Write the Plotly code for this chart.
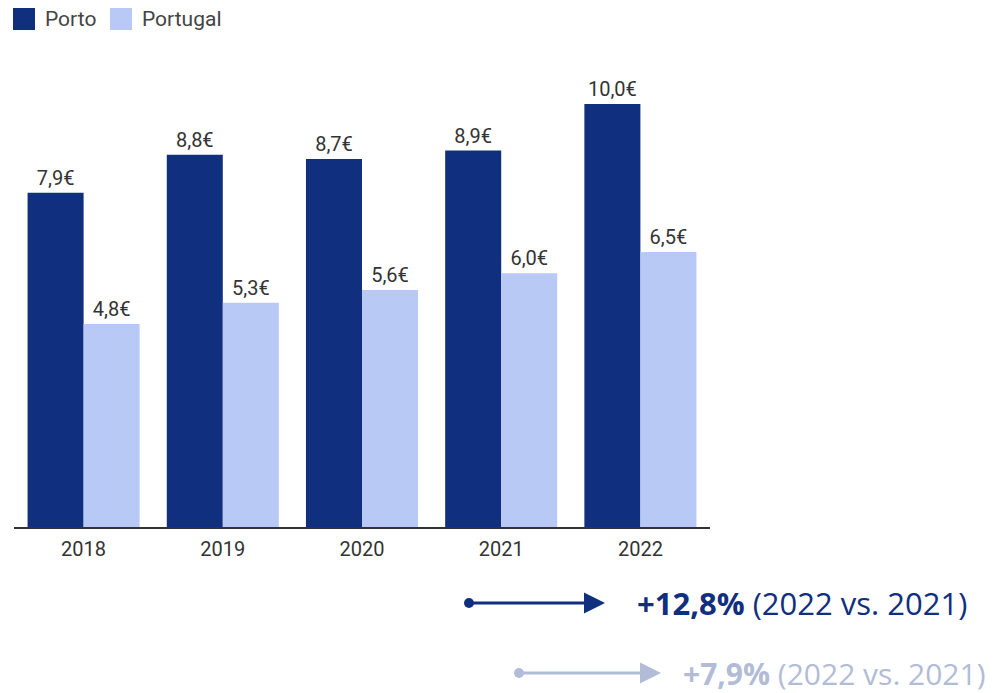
import plotly.graph_objects as go

years = ["2018", "2019", "2020", "2021", "2022"]
porto = [7.9, 8.8, 8.7, 8.9, 10.0]
portugal = [4.8, 5.3, 5.6, 6.0, 6.5]
series_names = ["Porto", "Portugal"]
growth = ["+12,8%", "+7,9%"]
growth_note = "(2022 vs. 2021)"

dark = "#102f7e"
light = "#b7c9f4"
txt = "#333333"


def eur(v):
    return f"{v:.1f}€".replace(".", ",")


fig = go.Figure()
for name, vals, col in [(series_names[0], porto, dark), (series_names[1], portugal, light)]:
    fig.add_trace(go.Bar(
        x=years, y=vals, name=name, marker_color=col, marker_line_width=0,
        text=[eur(v) for v in vals], textposition="outside", cliponaxis=False,
        textfont=dict(family="Roboto", size=20, color=txt),
    ))

# page has an 8px body margin, so work in screen coords and shift
OFF = 8
W, H = 998 - OFF, 693 - OFF
left, right, top, bottom = 14, 710, 40, 527  # plot area in screen px
l, t = left - OFF, top - OFF
r, b = W - (right - OFF), H - (bottom - OFF)
pw, ph = W - l - r, H - t - b


def px(x):
    return (x - OFF - l) / pw


def py(y):
    return (H - b - (y - OFF)) / ph


fig.update_layout(
    width=W, height=H,
    margin=dict(l=l, r=r, t=t, b=b),
    barmode="group", bargap=0.195, bargroupgap=0,
    plot_bgcolor="white", paper_bgcolor="white",
    showlegend=False,
    font=dict(family="Roboto", color=txt),
)
fig.update_xaxes(
    showline=True, linecolor="#333333", linewidth=1.5, ticks="",
    tickfont=dict(family="Roboto", size=20, color=txt),
    ticklabelstandoff=3,
    range=[-0.5, 4.5],
)
fig.update_yaxes(visible=False, range=[0, (bottom - top) / 42.3])

# custom legend
shapes = []
annots = []
for i, (name, col) in enumerate(zip(series_names, [dark, light])):
    x0 = [13, 110][i]
    shapes.append(dict(type="rect", xref="paper", yref="paper",
                       x0=px(x0), x1=px(x0 + 22), y0=py(30), y1=py(7),
                       fillcolor=col, line_width=0))
    annots.append(dict(text=name, xref="paper", yref="paper", x=px(x0 + 30), y=py(19),
                       xanchor="left", yanchor="middle", showarrow=False,
                       font=dict(family="Roboto", size=21, color="#444444")))

# growth arrows
arrow_rows = [
    dict(x0=469, x1=605, y=603, tx=635, col=dark, fs=31),
    dict(x0=519, x1=661, y=673, tx=681, col="#b2bcd6", fs=30),
]
for g, a in zip(growth, arrow_rows):
    annots.append(dict(xref="paper", yref="paper", x=px(a["x1"]), y=py(a["y"]),
                       ax=-(a["x1"] - a["x0"]), ay=0, axref="pixel", ayref="pixel",
                       showarrow=True, arrowhead=2, arrowsize=1.4, arrowwidth=3,
                       arrowcolor=a["col"], text=""))
    shapes.append(dict(type="circle", xref="paper", yref="paper",
                       xsizemode="pixel", ysizemode="pixel",
                       xanchor=px(a["x0"]), yanchor=py(a["y"]),
                       x0=-5, x1=5, y0=-5, y1=5,
                       fillcolor=a["col"], line_width=0))
    annots.append(dict(text=f"<b>{g}</b> {growth_note}", xref="paper", yref="paper",
                       x=px(a["tx"]), y=py(a["y"]), xanchor="left", yanchor="middle",
                       showarrow=False,
                       font=dict(family="Open Sans", size=a["fs"], color=a["col"])))

fig.update_layout(shapes=shapes, annotations=annots)
fig.write_html("out.html")
